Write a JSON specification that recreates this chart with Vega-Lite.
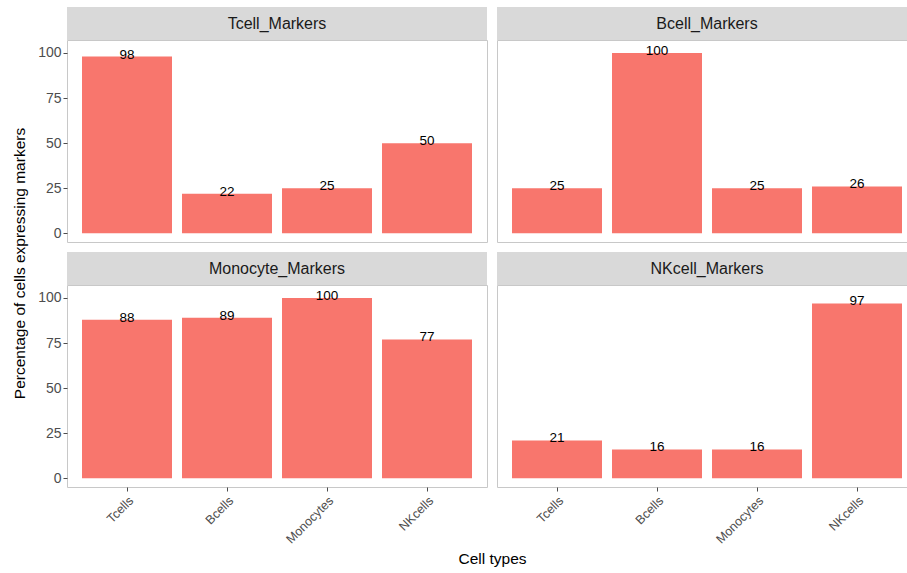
{
  "$schema": "https://vega.github.io/schema/vega-lite/v6.json",
  "padding": {"left": 11, "top": 7, "right": 0, "bottom": 0},
  "background": "white",
  "data": {"values": [
    {"panel": "Tcell_Markers", "cell": "Tcells", "pct": 98},
    {"panel": "Tcell_Markers", "cell": "Bcells", "pct": 22},
    {"panel": "Tcell_Markers", "cell": "Monocytes", "pct": 25},
    {"panel": "Tcell_Markers", "cell": "NKcells", "pct": 50},
    {"panel": "Bcell_Markers", "cell": "Tcells", "pct": 25},
    {"panel": "Bcell_Markers", "cell": "Bcells", "pct": 100},
    {"panel": "Bcell_Markers", "cell": "Monocytes", "pct": 25},
    {"panel": "Bcell_Markers", "cell": "NKcells", "pct": 26},
    {"panel": "Monocyte_Markers", "cell": "Tcells", "pct": 88},
    {"panel": "Monocyte_Markers", "cell": "Bcells", "pct": 89},
    {"panel": "Monocyte_Markers", "cell": "Monocytes", "pct": 100},
    {"panel": "Monocyte_Markers", "cell": "NKcells", "pct": 77},
    {"panel": "NKcell_Markers", "cell": "Tcells", "pct": 21},
    {"panel": "NKcell_Markers", "cell": "Bcells", "pct": 16},
    {"panel": "NKcell_Markers", "cell": "Monocytes", "pct": 16},
    {"panel": "NKcell_Markers", "cell": "NKcells", "pct": 97}
  ]},
  "bounds": "flush",
  "columns": 2,
  "spacing": {"row": 0, "column": 10},
  "concat": [
    {"width": 420, "height": 33, "view": {"fill": "#d9d9d9", "stroke": null},
     "data": {"values": [{"label": "Tcell_Markers"}]},
     "mark": {"type": "text", "fontSize": 16, "color": "#1a1a1a"},
     "encoding": {"text": {"field": "label"}}},
    {"width": 420, "height": 33, "view": {"fill": "#d9d9d9", "stroke": null},
     "data": {"values": [{"label": "Bcell_Markers"}]},
     "mark": {"type": "text", "fontSize": 16, "color": "#1a1a1a"},
     "encoding": {"text": {"field": "label"}}},
    {"width": 420, "height": 202, "view": {"stroke": "#c8c8c8"},
     "transform": [{"filter": "datum.panel === 'Tcell_Markers'"}],
     "encoding": {
       "x": {"field": "cell", "type": "nominal", "sort": ["Tcells", "Bcells", "Monocytes", "NKcells"], "scale": {"paddingInner": 0.1, "paddingOuter": 0.15}, "axis": null},
       "y": {"field": "pct", "type": "quantitative", "scale": {"domain": [-4.8, 107.2], "nice": false, "zero": false},
             "axis": {"values": [0, 25, 50, 75, 100], "title": null, "labelFontSize": 14, "labelPadding": 2}}
     },
     "layer": [
       {"mark": {"type": "bar", "color": "#F8766D"}, "encoding": {"y2": {"datum": 0}}},
       {"mark": {"type": "text", "baseline": "alphabetic", "dy": 2, "fontSize": 13.5, "color": "#000000"}, "encoding": {"text": {"field": "pct"}}}
     ]},
    {"width": 420, "height": 202, "view": {"stroke": "#c8c8c8"},
     "transform": [{"filter": "datum.panel === 'Bcell_Markers'"}],
     "encoding": {
       "x": {"field": "cell", "type": "nominal", "sort": ["Tcells", "Bcells", "Monocytes", "NKcells"], "scale": {"paddingInner": 0.1, "paddingOuter": 0.15}, "axis": null},
       "y": {"field": "pct", "type": "quantitative", "scale": {"domain": [-4.8, 107.2], "nice": false, "zero": false}, "axis": null}
     },
     "layer": [
       {"mark": {"type": "bar", "color": "#F8766D"}, "encoding": {"y2": {"datum": 0}}},
       {"mark": {"type": "text", "baseline": "alphabetic", "dy": 2, "fontSize": 13.5, "color": "#000000"}, "encoding": {"text": {"field": "pct"}}}
     ]},
    {"width": 420, "height": 10, "data": {"values": []}, "mark": "text"},
    {"width": 420, "height": 10, "data": {"values": []}, "mark": "text"},
    {"width": 420, "height": 33, "view": {"fill": "#d9d9d9", "stroke": null},
     "data": {"values": [{"label": "Monocyte_Markers"}]},
     "mark": {"type": "text", "fontSize": 16, "color": "#1a1a1a"},
     "encoding": {"text": {"field": "label"}}},
    {"width": 420, "height": 33, "view": {"fill": "#d9d9d9", "stroke": null},
     "data": {"values": [{"label": "NKcell_Markers"}]},
     "mark": {"type": "text", "fontSize": 16, "color": "#1a1a1a"},
     "encoding": {"text": {"field": "label"}}},
    {"width": 420, "height": 202, "view": {"stroke": "#c8c8c8"},
     "transform": [{"filter": "datum.panel === 'Monocyte_Markers'"}],
     "encoding": {
       "x": {"field": "cell", "type": "nominal", "sort": ["Tcells", "Bcells", "Monocytes", "NKcells"], "scale": {"paddingInner": 0.1, "paddingOuter": 0.15},
             "axis": {"title": "Cell types", "titleX": 425, "titleY": 76, "titleAlign": "center", "titleBaseline": "alphabetic",
                      "labelAngle": -45, "labelAlign": "right", "labelBaseline": "top", "labelFontSize": 12.5, "labelPadding": 3}},
       "y": {"field": "pct", "type": "quantitative", "scale": {"domain": [-4.8, 107.2], "nice": false, "zero": false},
             "axis": {"values": [0, 25, 50, 75, 100], "title": "Percentage of cells expressing markers", "titleX": -48, "titleY": -22, "titleAngle": -90, "titleAlign": "center", "titleBaseline": "middle", "labelFontSize": 14, "labelPadding": 2}}
     },
     "layer": [
       {"mark": {"type": "bar", "color": "#F8766D"}, "encoding": {"y2": {"datum": 0}}},
       {"mark": {"type": "text", "baseline": "alphabetic", "dy": 2, "fontSize": 13.5, "color": "#000000"}, "encoding": {"text": {"field": "pct"}}}
     ]},
    {"width": 420, "height": 202, "view": {"stroke": "#c8c8c8"},
     "transform": [{"filter": "datum.panel === 'NKcell_Markers'"}],
     "encoding": {
       "x": {"field": "cell", "type": "nominal", "sort": ["Tcells", "Bcells", "Monocytes", "NKcells"], "scale": {"paddingInner": 0.1, "paddingOuter": 0.15},
             "axis": {"title": null, "labelAngle": -45, "labelAlign": "right", "labelBaseline": "top", "labelFontSize": 12.5, "labelPadding": 3}},
       "y": {"field": "pct", "type": "quantitative", "scale": {"domain": [-4.8, 107.2], "nice": false, "zero": false}, "axis": null}
     },
     "layer": [
       {"mark": {"type": "bar", "color": "#F8766D"}, "encoding": {"y2": {"datum": 0}}},
       {"mark": {"type": "text", "baseline": "alphabetic", "dy": 2, "fontSize": 13.5, "color": "#000000"}, "encoding": {"text": {"field": "pct"}}}
     ]}
  ],
  "config": {
    "font": "Liberation Sans",
    "view": {"stroke": null},
    "axis": {"domain": false, "grid": false, "ticks": true, "tickColor": "#4d4d4d", "tickSize": 4,
             "labelColor": "#4d4d4d", "labelFont": "Liberation Sans", "titleFont": "Liberation Sans",
             "titleFontSize": 15.5, "titleFontWeight": "normal", "titleColor": "#000000"},
    "text": {"font": "Liberation Sans"}
  }
}
